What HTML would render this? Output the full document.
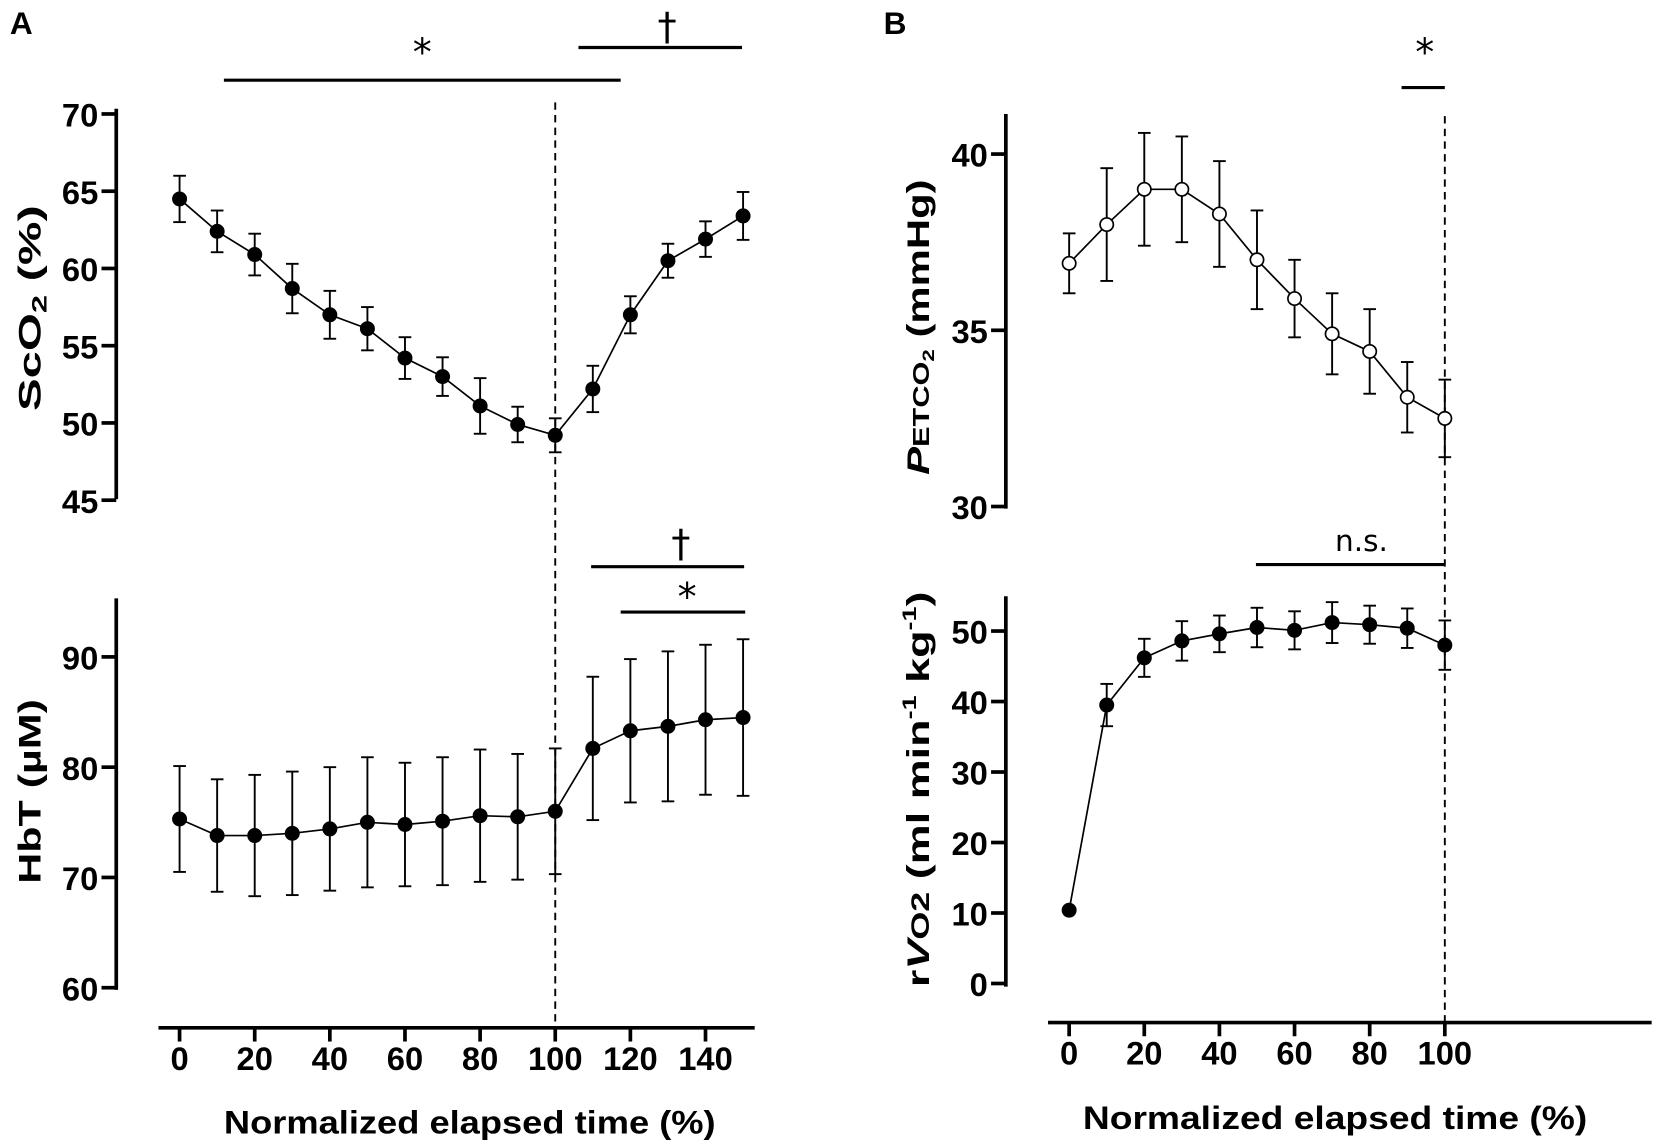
<!DOCTYPE html>
<html><head><meta charset="utf-8"><style>
html,body{margin:0;padding:0;background:#fff}
svg{display:block}
text{font-family:"Liberation Sans",sans-serif;font-weight:bold;fill:#000}
.tk{font-family:"Liberation Sans Narrow","Liberation Sans",sans-serif;font-size:31px}
.sig{font-family:"DejaVu Sans","Liberation Sans",sans-serif;font-weight:normal}
</style></head><body>
<svg id="fig" xmlns="http://www.w3.org/2000/svg" width="1655" height="1146" viewBox="0 0 1568 1086">
<g id="root"></g>
</svg>
<script>
// ---- data ----
const timeA = [0,10,20,30,40,50,60,70,80,90,100,110,120,130,140,150];
const sco2 = [64.5,62.4,60.9,58.7,57.0,56.1,54.2,53.0,51.1,49.9,49.2,52.2,57.0,60.5,61.9,63.4];
const sco2Err = [1.5,1.35,1.35,1.6,1.55,1.4,1.35,1.25,1.8,1.15,1.1,1.5,1.2,1.1,1.15,1.55];
const hbt = [75.3,73.8,73.8,74.0,74.4,75.0,74.8,75.1,75.6,75.5,76.0,81.7,83.3,83.7,84.3,84.5];
const hbtErr = [4.8,5.1,5.5,5.6,5.6,5.9,5.6,5.8,6.0,5.7,5.7,6.5,6.5,6.8,6.8,7.1];
const timeB = [0,10,20,30,40,50,60,70,80,90,100];
const petco2 = [36.9,38.0,39.0,39.0,38.3,37.0,35.9,34.9,34.4,33.1,32.5];
const petco2Err = [0.85,1.6,1.6,1.5,1.5,1.4,1.1,1.15,1.2,1.0,1.1];
const rvo2 = [10.4,39.5,46.2,48.6,49.6,50.5,50.1,51.2,50.9,50.4,48.0];
const rvo2Err = [0,3.0,2.7,2.8,2.6,2.8,2.7,2.9,2.7,2.8,3.5];
const ticksA = [0,20,40,60,80,100,120,140];
const ticksB = [0,20,40,60,80,100];
const ticksSco2 = [45,50,55,60,65,70];
const ticksHbt = [60,70,80,90];
const ticksPet = [30,35,40];
const ticksRvo = [0,10,20,30,40,50];

const NS="http://www.w3.org/2000/svg";
const root=document.getElementById('root');
function el(tag,attrs,parent){const e=document.createElementNS(NS,tag);for(const k in attrs)e.setAttribute(k,attrs[k]);(parent||root).appendChild(e);return e;}
function txt(x,y,s,attrs,parent){const t=el('text',Object.assign({x:x,y:y},attrs||{}),parent);t.textContent=s;return t;}

const xA=v=>170+3.56*v;
const xB=v=>1013+3.56*v;
const ySco2=v=>108+(70-v)*14.64;
const yHbt=v=>936-(v-60)*10.45;
const yPet=v=>480-(v-30)*33.4;
const yRvo=v=>932-v*6.68;

function yAxis(x,y0,y1,ticks,fy,name){
  const g=el('g',{});
  
  
  el('line',{x1:x,y1:y0,x2:x,y2:y1,stroke:'#000','stroke-width':3.5},g);
  ticks.forEach(t=>{
    const y=fy(t);
    el('line',{x1:x-14,y1:y,x2:x,y2:y,stroke:'#000','stroke-width':3.5},g);
    const l=txt(x-17,y+12,String(t),{'text-anchor':'end','class':'tk'},g);
    
    
  });
}
function xAxis(x0,x1,y,ticks,fx,name){
  const g=el('g',{});
  
  
  el('line',{x1:x0,y1:y,x2:x1,y2:y,stroke:'#000','stroke-width':3.5},g);
  ticks.forEach(t=>{
    const x=fx(t);
    el('line',{x1:x,y1:y,x2:x,y2:y+13,stroke:'#000','stroke-width':3.5},g);
    const l=txt(x,y+40,String(t),{'text-anchor':'middle','class':'tk'},g);
    
    
  });
}
function series(xs,ys,es,fx,fy,open,name){
  const g=el('g',{});
  
  
  xs.forEach((t,i)=>{
    if(es[i]>0){
      const x=fx(t),a=fy(ys[i]+es[i]),b=fy(ys[i]-es[i]);
      el('line',{x1:x,y1:a,x2:x,y2:b,stroke:'#000','stroke-width':1.8},g);
      el('line',{x1:x-6,y1:a,x2:x+6,y2:a,stroke:'#000','stroke-width':1.8},g);
      el('line',{x1:x-6,y1:b,x2:x+6,y2:b,stroke:'#000','stroke-width':1.8},g);
    }
  });
  el('polyline',{points:xs.map((t,i)=>fx(t)+','+fy(ys[i])).join(' '),fill:'none',stroke:'#000','stroke-width':1.6},g);
  xs.forEach((t,i)=>{
    const c=el('circle',{cx:fx(t),cy:fy(ys[i]),r:6.3,fill:open?'#fff':'#000',stroke:'#000','stroke-width':1.6},g);
    
    
  });
}
function bar(x0,x1,y,name){const l=el('line',{x1:x0,y1:y,x2:x1,y2:y,stroke:'#000','stroke-width':3});}
function mark(x,y,s,size,name,cls){const t=txt(x,y,s,{'text-anchor':'middle','font-size':size});if(cls)t.setAttribute('class',cls);return t;}

// Panel labels
mark(20,32,'A','30px','panel-a-label');
mark(848,32,'B','30px','panel-b-label');

// dashed lines
let d=el('line',{x1:526,y1:97,x2:526,y2:974,stroke:'#000','stroke-width':1.8,'stroke-dasharray':'7,5'});

d=el('line',{x1:1369,y1:110,x2:1369,y2:969,stroke:'#000','stroke-width':1.8,'stroke-dasharray':'7,5'});


// axes
yAxis(110,103,473,ticksSco2,ySco2,'sco2-y-axis');
yAxis(110,567,938,ticksHbt,yHbt,'hbt-y-axis');
xAxis(150,715,974,ticksA,xA,'x-axis-a');
yAxis(953,108,482,ticksPet,yPet,'petco2-y-axis');
yAxis(953,565,935,ticksRvo,yRvo,'rvo2-y-axis');
xAxis(993,1565,969,ticksB,xB,'x-axis-b');

// series
series(timeA,sco2,sco2Err,xA,ySco2,false,'sco2-series');
series(timeA,hbt,hbtErr,xA,yHbt,false,'hbt-series');
series(timeB,petco2,petco2Err,xB,yPet,true,'petco2-series');
series(timeB,rvo2,rvo2Err,xB,yRvo,false,'rvo2-series');

// significance
bar(212,588,76,'sig-bar-sco2-star'); mark(400,62,'*','36px','sig-star','sig');
bar(548,703,45,'sig-bar-sco2-dagger'); mark(632,38,'†','36px','sig-dagger','sig');
bar(560,705,537,'sig-bar-hbt-dagger'); mark(645,528,'†','36px','sig-dagger','sig');
bar(588,706,580,'sig-bar-hbt-star'); mark(651,578,'*','36px','sig-star','sig');
bar(1328,1369,83,'sig-bar-petco2-star'); mark(1350,62,'*','36px','sig-star','sig');
bar(1190,1369,535,'ns-bar-rvo2');
let ns=txt(1290,522,'n.s.',{'text-anchor':'middle','font-size':'28px','class':'sig'});


// axis titles
function title(x,y,rot,html,len,name){
  const t=el('text',{x:0,y:0,'text-anchor':'middle','font-size':'30px',transform:`translate(${x},${y}) rotate(${rot})`,textLength:len,lengthAdjust:'spacingAndGlyphs'});
  t.innerHTML=html;
  
  
}
title(38,292,-90,'ScO<tspan font-size="20" dy="6">2</tspan><tspan dy="-6"> (%)</tspan>',195,'sco2-y-title');
title(38,750,-90,'HbT (µM)',175,'hbt-y-title');
title(880,310,-90,'<tspan font-style="italic">P</tspan><tspan font-size="22">ETCO</tspan><tspan font-size="16" dy="5">2</tspan><tspan dy="-5"> (mmHg)</tspan>',280,'petco2-y-title');
title(880,748,-90,'r<tspan font-style="italic">V</tspan><tspan font-size="24">O2</tspan> (ml min<tspan font-size="18" dy="-12">-1</tspan><tspan dy="12"> kg</tspan><tspan font-size="18" dy="-12">-1</tspan><tspan dy="12">)</tspan>',375,'rvo2-y-title');
let xt=txt(445,1074,'Normalized elapsed time (%)',{'text-anchor':'middle','font-size':'33px','class':'tk',textLength:466,lengthAdjust:'spacingAndGlyphs'});

xt=txt(1265,1070,'Normalized elapsed time (%)',{'text-anchor':'middle','font-size':'33px','class':'tk',textLength:478,lengthAdjust:'spacingAndGlyphs'});

</script>
</body></html>
